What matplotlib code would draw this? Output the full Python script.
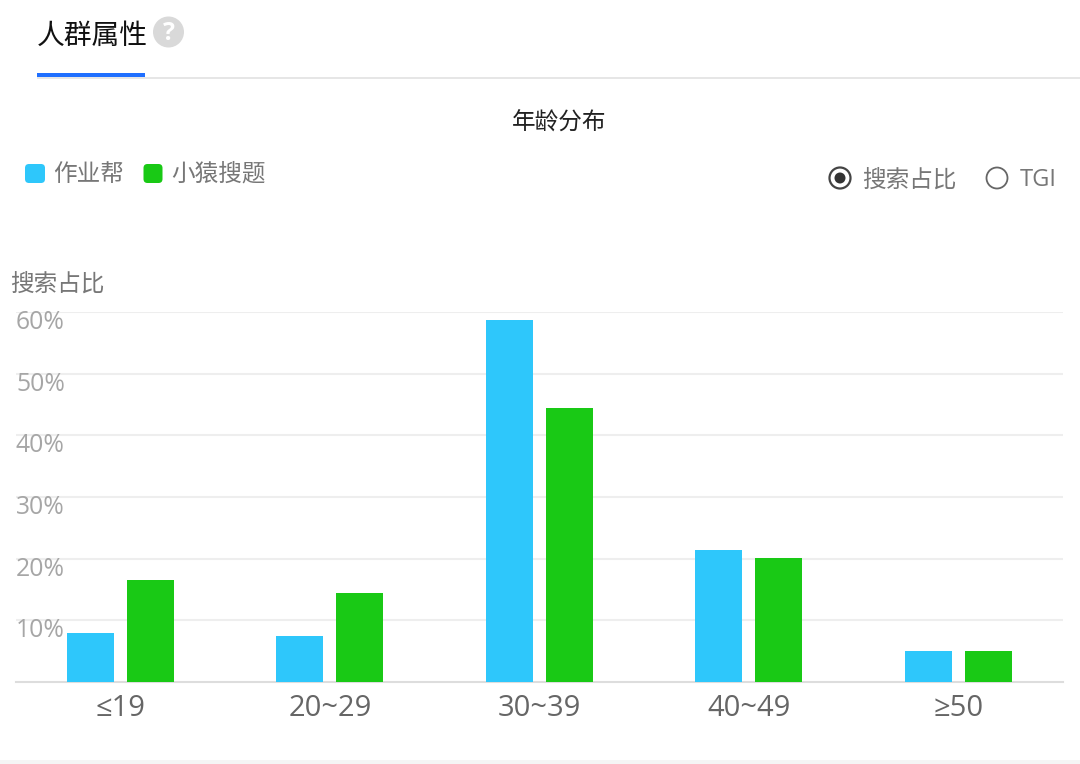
import matplotlib
matplotlib.use('Agg')
import matplotlib.pyplot as plt
from matplotlib.patches import Circle, FancyBboxPatch, Rectangle

plt.rcParams['font.family'] = ['Open Sans', 'Noto Sans CJK SC', 'DejaVu Sans']

W, H = 1080, 764

categories = ['≤19', '20~29', '30~39', '40~49', '≥50']
zuoyebang = [7.9, 7.5, 58.7, 21.4, 5.0]
xiaoyuan = [16.5, 14.4, 44.5, 20.1, 5.0]
yticks = [10, 20, 30, 40, 50, 60]

BLUE = '#2ec7fb'
GREEN = '#19c915'

fig = plt.figure(figsize=(W / 100, H / 100), dpi=100, facecolor='white')

# chart axes, placed in pixels: x 15.7..1063, baseline y=682, 60% at y=312
ax = fig.add_axes([15.7 / W, 1 - 682 / H, 1047.3 / W, 370 / H])
x = list(range(len(categories)))
bar_w = 0.224
off = 0.143
ax.bar([i - off for i in x], zuoyebang, bar_w, color=BLUE, zorder=3)
ax.bar([i + off for i in x], xiaoyuan, bar_w, color=GREEN, zorder=3)
ax.set_xlim(-0.5, 4.5)
ax.set_ylim(0, 60)
ax.set_xticks(x)
ax.set_xticklabels(categories, fontsize=21, color='#666666')
ax.set_yticks(yticks)
ax.set_yticklabels([])
ax.tick_params(length=0)
ax.tick_params(axis='x', pad=8.5)
ax.grid(axis='y', color='#eeeeee', linewidth=1.5, zorder=0)
ax.set_axisbelow(True)
for name in ['top', 'left', 'right']:
    ax.spines[name].set_visible(False)
ax.spines['bottom'].set_color('#dddddd')
ax.spines['bottom'].set_linewidth(1.5)
ax.patch.set_alpha(0)
for v in yticks:
    ax.annotate('%d%%' % v, xy=(0, v), xycoords=('axes fraction', 'data'),
                xytext=(0.2, -7.5), textcoords='offset points', ha='left', va='center',
                fontsize=17.8, color='#a6a6a6', zorder=5)

# page furniture around the chart, in pixel coordinates
top = fig.add_axes([0, 0, 1, 1], zorder=5)
top.set_xlim(0, W)
top.set_ylim(H, 0)
top.axis('off')
top.patch.set_alpha(0)

top.text(36.5, 37, '人群属性', fontsize=20, color='#111111', ha='left', va='center')
top.add_patch(Circle((168.5, 32), 15.5, color='#d9d9d9', lw=0))
top.text(168.5, 33, '?', fontsize=18, color='white', ha='center', va='center', fontweight='bold')
top.add_patch(Rectangle((37, 77), 1043, 2, color='#e6e6e6', lw=0))
top.add_patch(Rectangle((37, 73), 108, 4, color='#1f6fff', lw=0))

top.text(559, 124, '年龄分布', fontsize=17, color='#222222', ha='center', va='center')

top.add_patch(FancyBboxPatch((28, 167), 14, 13, boxstyle='round,pad=3,rounding_size=4', color=BLUE, lw=0))
top.text(53, 175, '作业帮', fontsize=17, color='#777777', ha='left', va='center')
top.add_patch(FancyBboxPatch((146.5, 167), 13, 13, boxstyle='round,pad=3,rounding_size=4', color=GREEN, lw=0))
top.text(171, 175, '小猿搜题', fontsize=17, color='#777777', ha='left', va='center')

top.add_patch(Circle((840, 178), 10.5, fill=False, ec='#444444', lw=1.6))
top.add_patch(Circle((840, 178), 5.5, color='#333333', lw=0))
top.text(862, 181, '搜索占比', fontsize=17, color='#777777', ha='left', va='center')
top.add_patch(Circle((997, 178), 10.5, fill=False, ec='#666666', lw=1.3))
top.text(1020, 180, 'TGI', fontsize=17, color='#777777', ha='left', va='center')

top.text(10, 285, '搜索占比', fontsize=17, color='#777777', ha='left', va='center')

top.add_patch(Rectangle((0, 760), W, 4, color='#f5f5f5', lw=0))

fig.savefig('out.png', dpi=100)
